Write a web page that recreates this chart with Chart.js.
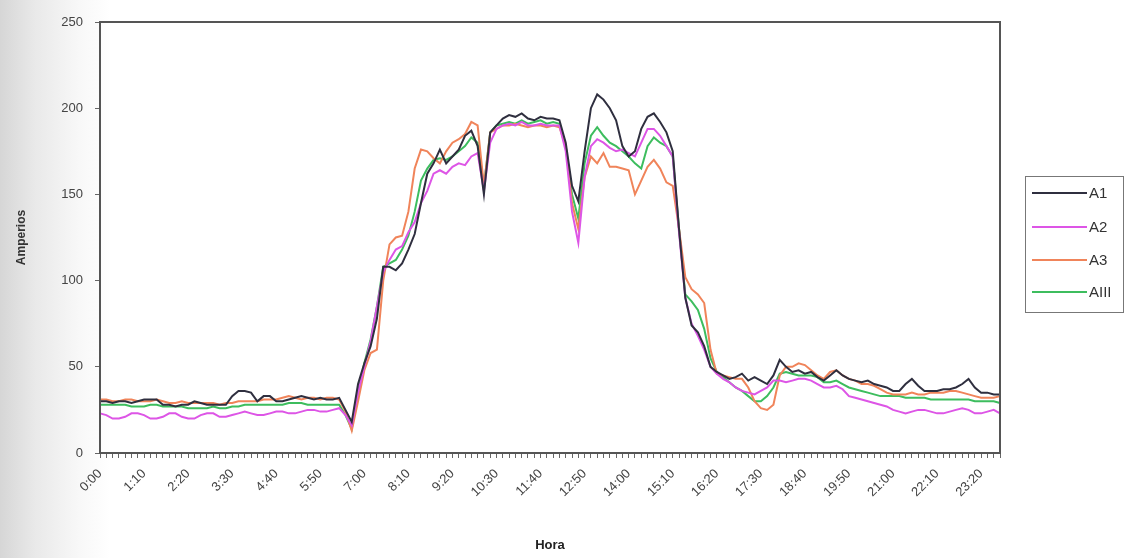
<!DOCTYPE html>
<html><head><meta charset="utf-8">
<script src="https://cdn.jsdelivr.net/npm/chart.js@4.4.0/dist/chart.umd.min.js"></script>
<style>
html,body{margin:0;padding:0;}
body{width:1125px;height:558px;overflow:hidden;background:linear-gradient(to right,#d6d6d6 0px,#e9e9e9 35px,#f8f8f8 80px,#ffffff 110px);}
canvas{display:block;}
</style></head><body>
<canvas id="c" width="1125" height="558"></canvas>
<script>
// Categories: 10-minute readings through one day
const horas = [];
for (let h = 0; h < 24; h++) { for (let m = 0; m < 60; m += 10) { horas.push(h + ':' + (m === 0 ? '00' : m)); } }
const labelEvery = 7; // one tick label every 70 minutes

const serieNames = ['A1', 'A2', 'A3', 'AIII'];

const A1 = [
 30,30,29,30,30,29,30,31,31,31,
 28,28,27,28,28,30,29,28,28,28,
 28,33,36,36,35,30,33,33,30,30,
 31,32,33,32,31,32,31,31,32,25,
 18,40,52,62,78,108,108,106,110,118,
 127,145,162,168,176,168,172,176,184,187,
 178,150,186,190,194,196,195,197,194,193,
 195,194,194,193,180,155,146,175,200,208,
 205,200,193,178,172,175,188,195,197,192,
 186,175,130,90,74,70,62,50,47,45,
 43,44,46,42,44,42,40,45,54,50,
 47,48,46,47,44,42,45,48,45,43,
 42,41,42,40,39,38,36,36,40,43,
 39,36,36,36,37,37,38,40,43,38,
 35,35,34,34];

const A2 = [
 23,22,20,20,21,23,23,22,20,20,
 21,23,23,21,20,20,22,23,23,21,
 21,22,23,24,23,22,22,23,24,24,
 23,23,24,25,25,24,24,25,26,22,
 16,35,50,65,85,105,112,118,120,128,
 134,145,152,162,164,162,166,168,167,172,
 174,152,180,188,190,191,190,192,190,190,
 191,190,190,190,175,140,122,160,178,182,
 180,177,175,176,174,172,180,188,188,184,
 178,172,128,90,75,68,60,50,46,43,
 41,38,36,35,34,36,38,42,42,41,
 42,43,43,42,40,38,38,39,37,33,
 32,31,30,29,28,27,25,24,23,24,
 25,25,24,23,23,24,25,26,25,23,
 23,24,25,23];

const A3 = [
 31,31,30,30,31,31,30,30,30,31,
 30,29,29,30,29,29,29,29,29,28,
 29,29,30,30,30,30,31,31,31,32,
 33,32,31,32,32,31,32,32,31,24,
 13,30,48,58,60,100,121,125,126,140,
 165,176,175,171,168,175,180,182,185,192,
 190,155,186,188,190,190,191,190,189,190,
 190,189,190,189,178,145,130,160,172,168,
 174,166,166,165,164,150,158,166,170,165,
 157,155,130,102,95,92,87,60,46,45,
 44,43,43,38,30,26,25,28,45,50,
 50,52,51,48,45,43,47,48,45,43,
 42,40,40,39,37,35,34,34,34,35,
 34,34,35,35,35,36,36,35,34,33,
 32,32,32,33];

const AIII = [
 28,28,28,28,28,27,27,27,28,28,
 27,27,27,27,26,26,26,26,27,26,
 26,27,27,28,28,28,28,28,28,28,
 29,29,29,28,28,28,28,28,28,22,
 14,35,52,66,85,108,110,112,118,126,
 140,158,165,170,171,170,172,175,178,183,
 180,155,186,190,191,192,191,193,191,192,
 193,191,192,191,178,150,136,168,184,189,
 184,180,178,175,172,168,165,178,183,180,
 178,172,130,92,88,83,72,55,47,44,
 41,38,36,33,30,30,33,38,46,47,
 46,45,45,45,44,41,41,42,40,38,
 37,36,35,34,33,33,33,33,32,32,
 32,32,31,31,31,31,31,31,31,30,
 30,30,30,29];

const yTicks = [0, 50, 100, 150, 200, 250];
const colors = ['#2f2f3f', '#dd55e6', '#f0845a', '#3dbd5e'];

const series = [A1, A2, A3, AIII];
const datasets = series.map((d, i) => ({
  label: serieNames[i],
  data: d,
  borderColor: colors[i],
  backgroundColor: colors[i],
  borderWidth: 2,
  pointRadius: 0,
  tension: 0,
  fill: false
}));

const framePlugin = {
  id: 'frame',
  afterDraw(chart) {
    const {ctx, chartArea: a} = chart;
    ctx.save();
    ctx.strokeStyle = '#555';
    ctx.lineWidth = 2;
    ctx.strokeRect(a.left, a.top, a.right - a.left, a.bottom - a.top);
    // legend box
    const bx = 1025, by = 176, bw = 98, bh = 136;
    ctx.lineWidth = 1;
    ctx.strokeStyle = '#777';
    ctx.fillStyle = '#fff';
    ctx.fillRect(bx, by, bw, bh);
    ctx.strokeRect(bx + 0.5, by + 0.5, bw, bh);
    const ys = [193, 227, 260, 292];
    ctx.font = '15px "Liberation Sans", Arial, sans-serif';
    ctx.textBaseline = 'middle';
    chart.data.datasets.forEach((ds, i) => {
      ctx.strokeStyle = ds.borderColor;
      ctx.lineWidth = 2;
      ctx.beginPath();
      ctx.moveTo(bx + 7, ys[i]);
      ctx.lineTo(bx + 62, ys[i]);
      ctx.stroke();
      ctx.fillStyle = '#333';
      ctx.fillText(ds.label, bx + 64, ys[i] + 1);
    });
    ctx.restore();
  }
};

new Chart(document.getElementById('c'), {
  type: 'line',
  data: { labels: horas, datasets },
  options: {
    responsive: false,
    animation: false,
    layout: { padding: { top: 22, right: 125, left: 0, bottom: 0 } },
    plugins: { legend: { display: false }, tooltip: { enabled: false } },
    scales: {
      x: {
        type: 'category',
        offset: false,
        afterFit(s) { s.height = 105; },
        grid: { drawOnChartArea: false, tickLength: 5, color: '#666', lineWidth: 1 },
        border: { display: true, color: '#555', width: 2 },
        ticks: {
          autoSkip: false, maxRotation: 45, minRotation: 45, padding: 8,
          color: '#444', font: { family: '"Liberation Sans", Arial, sans-serif', size: 13 },
          callback(v, i) { return i % labelEvery === 0 ? horas[i] : ''; }
        },
        title: { display: true, text: 'Hora', color: '#222', padding: { top: 0, bottom: 5 },
          font: { family: '"Liberation Sans", Arial, sans-serif', size: 13, weight: 'bold' } }
      },
      y: {
        min: 0, max: 250,
        afterFit(s) { s.width = 100; },
        afterBuildTicks(s) { s.ticks = yTicks.map(v => ({ value: v })); },
        grid: { drawOnChartArea: false, tickLength: 5, color: '#666' },
        border: { display: true, color: '#555', width: 2 },
        ticks: { padding: 12, color: '#444', font: { family: '"Liberation Sans", Arial, sans-serif', size: 13 } },
        title: { display: true, text: 'Amperios', color: '#333', padding: { top: 14, bottom: 0 },
          font: { family: '"Liberation Sans", Arial, sans-serif', size: 12, weight: 'bold' } }
      }
    }
  },
  plugins: [framePlugin]
});
</script>
</body></html>
